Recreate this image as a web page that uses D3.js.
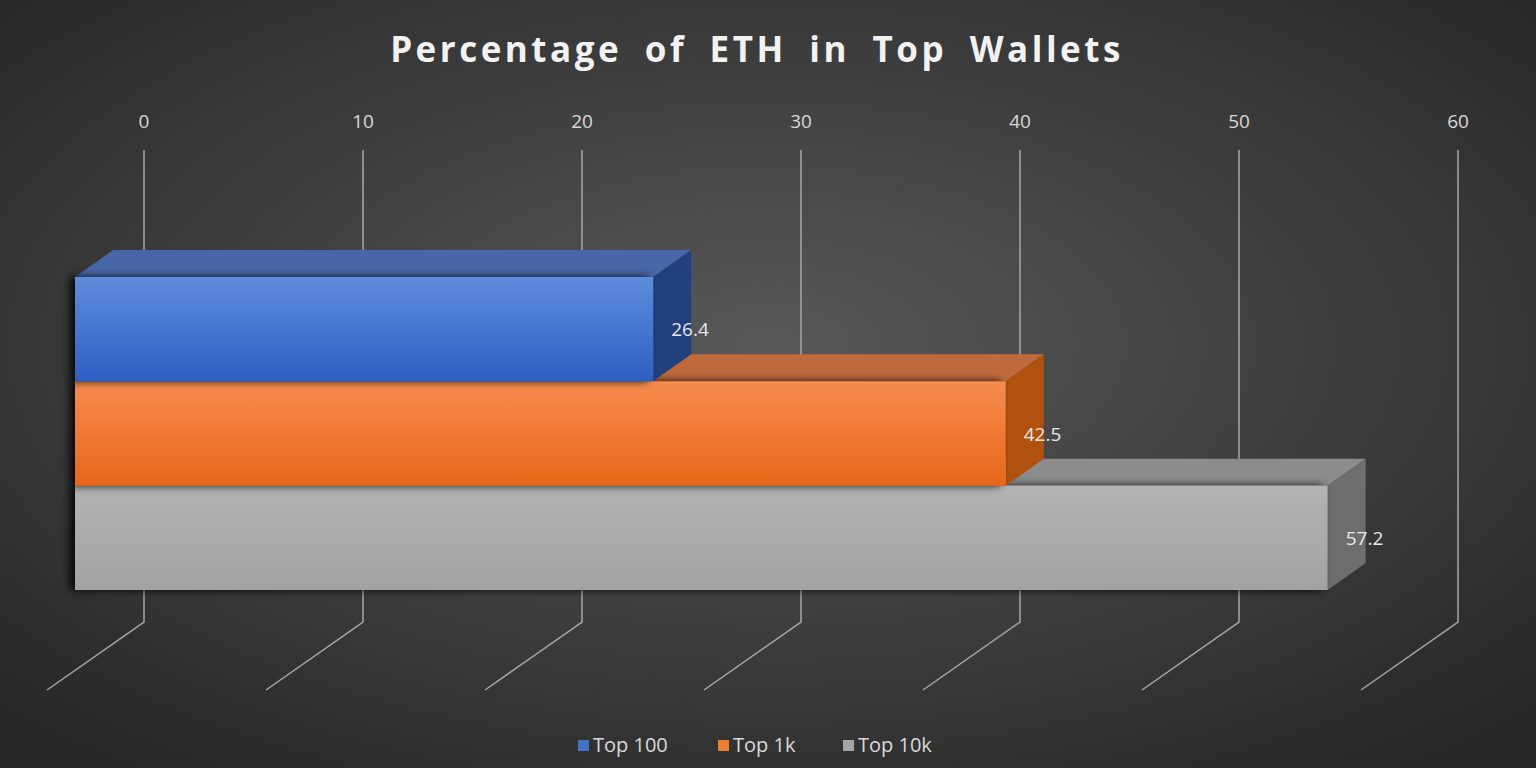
<!DOCTYPE html><html><head><meta charset="utf-8">
<script src="https://cdn.jsdelivr.net/npm/d3@7"></script>
<style>body{margin:0;background:#333}</style></head><body>
<svg id="c" width="1536" height="768"></svg>
<script>
const categories=["Top 100","Top 1k","Top 10k"];
const values=[26.4,42.5,57.2];
const ticks=[0,10,20,30,40,50,60];
const front=["#5e8ddc","#f68c4e","#b3b3b3"], frontB=["#2e5ec2","#e8661a","#a2a2a2"];
const topC=["#4866a8","#c06a3c","#8c8c8c"], sideC=["#22407e","#b0520e","#6e6e6e"];
const svg=d3.select("#c");
const defs=svg.append("defs");
const bg=defs.append("radialGradient").attr("id","bg").attr("cx","50%").attr("cy","45%").attr("r","70%");
bg.append("stop").attr("offset","0").attr("stop-color","#585858");
bg.append("stop").attr("offset","1").attr("stop-color","#262626");
front.forEach((c,i)=>{const g=defs.append("linearGradient").attr("id","f"+i).attr("x1",0).attr("x2",0).attr("y1",0).attr("y2",1);
g.append("stop").attr("offset",0).attr("stop-color",c);g.append("stop").attr("offset",1).attr("stop-color",frontB[i]);});
const fl=defs.append("filter").attr("id","sh").attr("x","-10%").attr("width","120%");
fl.append("feDropShadow").attr("dx",-5).attr("dy",0).attr("stdDeviation",4).attr("flood-color","#000").attr("flood-opacity",0.9);
svg.append("rect").attr("width",1536).attr("height",768).attr("fill","url(#bg)");
svg.append("text").attr("x",757).attr("y",62).attr("text-anchor","middle").attr("fill","#f2f2f2")
 .attr("font-family","Open Sans, sans-serif").attr("font-weight","bold").attr("font-size",35).attr("letter-spacing",3.5).attr("word-spacing",10)
 .text("Percentage of ETH in Top Wallets");
const x=d3.scaleLinear().domain([0,60]).range([75,75+1314]);
const wall=69, bdx=38, bdy=-27;
const y=d3.scaleBand().domain(categories).range([277,590]).padding(0);
const g=svg.append("g").attr("stroke","#a8a8a8").attr("stroke-width",1.5).attr("fill","none");
ticks.forEach(t=>{const X=x(t)+wall;
 g.append("path").attr("d",`M${X},150V622L${X-97},690`);});
svg.append("g").selectAll("text").data(ticks).join("text").attr("x",d=>x(d)+wall).attr("y",128)
 .attr("text-anchor","middle").attr("fill","#d9d9d9").attr("font-family","Open Sans, sans-serif").attr("font-size",19).text(d=>d);
const bars=svg.append("g");
[2,1,0].forEach(i=>{const c=categories[i];const x0=x(0),x1=x(values[i]),y0=y(c),y1=y0+y.bandwidth();
 const b=bars.append("g");
 b.append("path").attr("d",`M${x0},${y0}L${x0+bdx},${y0+bdy}L${x1+bdx},${y0+bdy}L${x1},${y0}Z`).attr("fill",topC[i]);
 b.append("path").attr("d",`M${x1},${y0}L${x1+bdx},${y0+bdy}L${x1+bdx},${y1+bdy}L${x1},${y1}Z`).attr("fill",sideC[i]);
 b.append("rect").attr("x",x0).attr("y",y0).attr("width",x1-x0).attr("height",y1-y0).attr("fill",`url(#f${i})`).attr("filter","url(#sh)");
});
categories.forEach((c,i)=>{const y0=y(c);
 svg.append("text").attr("x",x(values[i])+18).attr("y",y0+y.bandwidth()/2+7).attr("fill","#e8e8e8").attr("font-family","Open Sans, sans-serif").attr("font-size",19).text(values[i]);});
const lx=[578,718,843];
categories.forEach((c,i)=>{svg.append("rect").attr("x",lx[i]).attr("y",740).attr("width",11).attr("height",11).attr("fill",i==0?"#4472c4":i==1?"#ed7d31":"#a5a5a5");
 svg.append("text").attr("x",lx[i]+15).attr("y",752).attr("fill","#d9d9d9").attr("font-family","Open Sans, sans-serif").attr("font-size",20).text(c);});
</script></body></html>
